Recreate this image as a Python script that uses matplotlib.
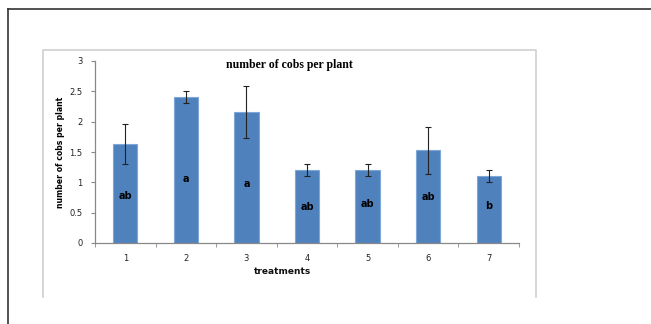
import matplotlib
matplotlib.use("Agg")
import matplotlib.pyplot as plt
from matplotlib.lines import Line2D

treatments = ["1", "2", "3", "4", "5", "6", "7"]
cobs = [1.63, 2.40, 2.16, 1.20, 1.20, 1.53, 1.10]
err = [0.33, 0.10, 0.43, 0.10, 0.10, 0.39, 0.10]
letters = ["ab", "a", "a", "ab", "ab", "ab", "b"]
letter_y = [0.77, 1.05, 0.97, 0.60, 0.64, 0.75, 0.61]

W, H = 651, 324
fig = plt.figure(figsize=(W / 100, H / 100), dpi=100)

# outer page border (left and top only visible)
fig.add_artist(Line2D([8 / W, 8 / W], [0, 1 - 9 / H], color="#333333", lw=1.2))
fig.add_artist(Line2D([8 / W, 1], [1 - 9 / H, 1 - 9 / H], color="#333333", lw=1.2))

# chart area frame, open at the bottom
gray = "#d0d0d0"
fx0, fx1, fy0, fy1 = 43 / W, 536 / W, 1 - 297 / H, 1 - 50 / H
fig.add_artist(Line2D([fx0, fx0, fx1, fx1], [fy0, fy1, fy1, fy0], color=gray, lw=1.2))

ax = fig.add_axes([95 / W, 1 - 243 / H, (519 - 95) / W, (243 - 61) / H])
x = range(1, len(treatments) + 1)
ax.bar(x, cobs, width=0.4, color="#4f81bd", edgecolor="#7ea6d6", linewidth=0.8, zorder=2)
ax.errorbar(x, cobs, yerr=err, fmt="none", ecolor="#222222", elinewidth=0.8,
            capsize=2.5, capthick=0.8, zorder=3)

for xi, lab, ly in zip(x, letters, letter_y):
    ax.text(xi, ly, lab, ha="center", va="center", fontsize=7, fontweight="bold",
            color="black", zorder=4)

ax.set_xlim(0.5, 7.5)
ax.set_ylim(0, 3)
ax.set_yticks([0, 0.5, 1, 1.5, 2, 2.5, 3])
ax.set_yticklabels(["0", "0.5", "1", "1.5", "2", "2.5", "3"])
ax.set_xticks(list(x))
ax.set_xticklabels(treatments)
ax.set_xticks([i + 0.5 for i in range(0, 8)], minor=True)
ax.tick_params(axis="x", which="major", length=0, labelsize=6, pad=8, colors="#222222")
ax.tick_params(axis="x", which="minor", length=3, color="#888888", direction="out")
ax.tick_params(axis="y", length=3, color="#888888", labelsize=6, pad=6, labelcolor="#222222")

for side in ("top", "right"):
    ax.spines[side].set_visible(False)
for side in ("left", "bottom"):
    ax.spines[side].set_color("#888888")
    ax.spines[side].set_linewidth(0.9)

ax.text((289 - 95) / (519 - 95), (243 - 65) / (243 - 61), "number of cobs per plant",
        transform=ax.transAxes, ha="center", va="center", fontsize=8.5,
        fontweight="bold", family="Liberation Serif")
ax.set_xlabel("treatments", fontsize=6.5, color="#111111", fontweight="semibold")
ax.xaxis.set_label_coords((283 - 95) / (519 - 95), -(267 - 243) / (243 - 61))
ax.set_ylabel("number of cobs per plant", fontsize=5.6, fontweight="bold")
ax.yaxis.set_label_coords(-(95 - 65) / (519 - 95), (243 - 152) / (243 - 61))

fig.savefig("out.png", dpi=100, facecolor="white")
